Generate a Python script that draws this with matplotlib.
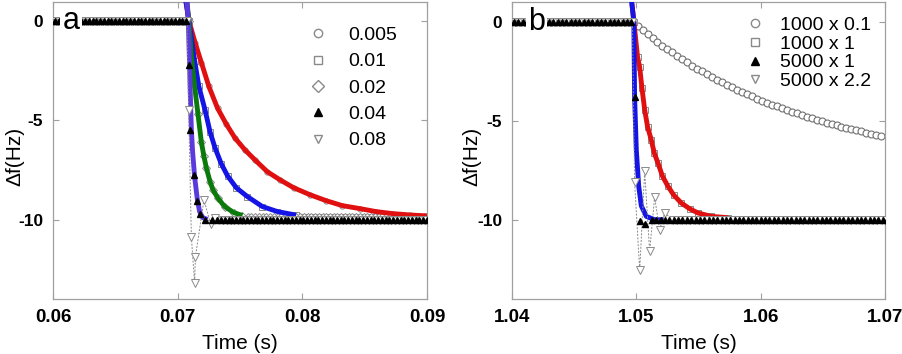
import numpy as np
import matplotlib.pyplot as plt
from matplotlib.lines import Line2D

plt.rcParams['font.family'] = 'Liberation Sans'
plt.rcParams['axes.unicode_minus'] = False

# ==============================================================================
#                         PANEL A
# ==============================================================================
labels_a = ['0.005', '0.01', '0.02', '0.04', '0.08']
flat_start_a = 0.0600
step_a = 0.0708          # last time on the 0 Hz plateau
flat_end_a = 0.0901
flat_dt_a = 0.0003

# fitted curves (drawn as thick coloured lines)
red_a_t = [0.0706, 0.0709, 0.0714, 0.0719, 0.0725, 0.0732, 0.0739, 0.0746, 0.0754,
           0.0762, 0.0772, 0.0782, 0.0793, 0.0806, 0.0819, 0.0832, 0.0846, 0.0859,
           0.0872, 0.0886, 0.0900]
red_a_v = [1.3, 0.0, -1.1, -2.1, -3.3, -4.4, -5.2, -5.9, -6.5,
           -7.0, -7.6, -8.0, -8.4, -8.75, -9.05, -9.3, -9.45, -9.6,
           -9.7, -9.77, -9.82]
blue_a_t = [0.07055, 0.0709, 0.0712, 0.07136, 0.0717, 0.0722, 0.0726, 0.0730, 0.0735,
            0.0740, 0.0747, 0.0756, 0.0768, 0.0780, 0.0795]
blue_a_v = [1.4, 0.0, -1.3, -2.0, -3.3, -4.5, -5.6, -6.4, -7.2,
            -7.8, -8.4, -8.85, -9.35, -9.6, -9.78]
green_a_t = [0.0707, 0.0709, 0.0711, 0.07136, 0.07163, 0.0719, 0.0721, 0.0723, 0.0726,
             0.07283, 0.0732, 0.07377, 0.0745, 0.0752]
green_a_v = [1.2, 0.0, -1.8, -3.3, -4.7, -6.1, -6.8, -7.4, -8.1,
             -8.5, -8.9, -9.35, -9.65, -9.8]
purple_a_t = [0.0707, 0.07085, 0.07096, 0.07103, 0.0711, 0.0712, 0.07136, 0.07158,
              0.07176, 0.0720, 0.0724]
purple_a_v = [1.5, 0.0, -2.3, -4.0, -5.5, -6.6, -7.85, -9.0, -9.6, -9.9, -10.0]

# measured points on the transients
tri_a_t = [0.07093, 0.07102, 0.0713, 0.07158, 0.07176, 0.07217, 0.07276]
tri_a_v = [-2.25, -5.5, -7.77, -9.08, -9.7, -10.0, -10.0]
dtri_a_t = [0.07088, 0.0711, 0.07136, 0.07142, 0.07211, 0.07265, 0.0730]
dtri_a_v = [-4.5, -10.9, -13.2, -11.9, -9.0, -10.25, -9.9]

# where each series sits on its final plateau
post_start_a = [None, 0.0800, 0.0755, 0.0730, 0.0734]
post_level_a = [None, -9.85, -9.85, -10.0, -10.0]

# ==============================================================================
#                         PANEL B
# ==============================================================================
labels_b = ['1000 x 0.1', '1000 x 1', '5000 x 1', '5000 x 2.2']
flat_start_b = 1.0400
step_b = 1.0497
flat_end_b = 1.0702
flat_dt_b = 0.00035

circ_b_t0 = 1.0497
circ_b_dt = 0.0004
circ_b_v = [0.0, -0.22, -0.43, -0.63, -0.83, -1.02, -1.21, -1.39, -1.56, -1.73,
            -1.90, -2.06, -2.22, -2.37, -2.52, -2.66, -2.80, -2.93, -3.07, -3.19,
            -3.32, -3.44, -3.55, -3.67, -3.78, -3.89, -3.99, -4.09, -4.19, -4.28,
            -4.38, -4.47, -4.55, -4.64, -4.72, -4.80, -4.88, -4.95, -5.03, -5.10,
            -5.17, -5.23, -5.30, -5.36, -5.42, -5.48, -5.54, -5.60, -5.65, -5.71,
            -5.76]

red_b_t = [1.04965, 1.0498, 1.0501, 1.05027, 1.05045, 1.05067, 1.0509, 1.0512, 1.05145,
           1.05174, 1.0521, 1.05255, 1.0530, 1.05362, 1.0543, 1.05496, 1.05603, 1.0574]
red_b_v = [0.9, 0.0, -1.8, -2.3, -3.35, -4.45, -5.3, -5.97, -6.65,
           -7.14, -7.8, -8.32, -8.75, -9.16, -9.45, -9.66, -9.83, -9.9]
blue_b_t = [1.04962, 1.0498, 1.04986, 1.0500, 1.05019, 1.0504, 1.0508, 1.05147, 1.0522]
blue_b_v = [1.0, 0.0, -3.8, -6.5, -8.3, -9.3, -9.83, -10.0, -10.0]

tri_b_t = [1.04986, 1.05027, 1.05067]
tri_b_v = [-3.8, -10.08, -10.2]
dtri_b_t = [1.04986, 1.05027, 1.05067, 1.05107, 1.05147, 1.05187, 1.05228]
dtri_b_v = [-8.1, -12.55, -7.56, -11.6, -8.86, -10.5, -9.66]

post_start_b = [None, 1.0578, 1.0511, 1.0527]
post_level_b = [None, -10.0, -10.0, -10.0]

# ==============================================================================
#                                    STYLE
# ==============================================================================
grey = '#8a8a8a'
spine_grey = '#a0a0a0'
c_red = '#e01010'
c_blue = '#1414e6'
c_green = '#0a7a0a'
c_purple = '#5a3adc'

open_kw = dict(linestyle='none', markerfacecolor='white', markeredgecolor=grey,
               markeredgewidth=0.7, markersize=3.8, zorder=2)
tri_kw = dict(linestyle='none', color='black', markersize=4.5, zorder=5)
dtri_kw = dict(color=grey, linestyle=(0, (2, 1.5)), linewidth=0.7, marker='v',
               markerfacecolor='white', markeredgecolor=grey, markeredgewidth=0.7,
               markersize=5.5, zorder=4)
fit_kw = dict(linewidth=3.5, solid_capstyle='butt', zorder=3)


def flat(t0, t1, dt, level, offset):
    t = np.arange(t0 + offset, t1, dt)
    return t, np.full(len(t), level)


def style_axes(ax, xticks, xlim, ylim, ylabel_x):
    ax.set_xlim(*xlim)
    ax.set_ylim(*ylim)
    ax.set_xticks(xticks)
    ax.set_xticklabels(['%g' % x for x in xticks], fontweight='bold', fontsize=13.5)
    ax.set_yticks([0, -5, -10])
    ax.set_yticklabels(['0', '-5', '-10'], fontweight='bold', fontsize=12.5)
    ax.tick_params(axis='both', direction='in', length=4, width=0.8, color=spine_grey,
                   top=True, right=True)
    ax.tick_params(axis='x', pad=7)
    ax.tick_params(axis='y', pad=7)
    for sp in ax.spines.values():
        sp.set_color(spine_grey)
        sp.set_linewidth(0.9)
    ax.set_xlabel('Time (s)', fontsize=15, labelpad=6)
    ax.set_ylabel('\u0394f(Hz)', fontsize=15)
    ax.yaxis.set_label_coords(ylabel_x, 0.48)


fig = plt.figure(figsize=(9.02, 3.54), dpi=100)
ax_a = fig.add_axes([0.05876, 0.15537, 0.41463, 0.8398])
ax_b = fig.add_axes([0.56763, 0.15537, 0.41353, 0.8398])

# ------------------------------- panel a --------------------------------------
markers_a = ['o', 's', 'D', '^', 'v']
along_a = [(red_a_t[1:], red_a_v[1:]), (blue_a_t[1:], blue_a_v[1:]),
           (green_a_t[1:], green_a_v[1:]), (tri_a_t, tri_a_v), (dtri_a_t, dtri_a_v)]
for k, (m, (tt, vv)) in enumerate(zip(markers_a, along_a)):
    t_pre, v_pre = flat(flat_start_a, step_a, flat_dt_a, 0.0, k * 0.00006)
    t_all = list(t_pre) + list(tt)
    v_all = list(v_pre) + list(vv)
    if post_start_a[k] is not None:
        t_post, v_post = flat(post_start_a[k], flat_end_a, flat_dt_a, post_level_a[k], k * 0.00006)
        t_all += list(t_post)
        v_all += list(v_post)
    if m == '^':
        ax_a.plot(t_all, v_all, marker='^', **tri_kw)
    elif m == 'v':
        ax_a.plot(t_all, v_all, **dtri_kw)
    else:
        ax_a.plot(t_all, v_all, marker=m, **open_kw)

ax_a.plot(red_a_t, red_a_v, color=c_red, **fit_kw)
ax_a.plot(blue_a_t, blue_a_v, color=c_blue, **fit_kw)
ax_a.plot(green_a_t, green_a_v, color=c_green, **fit_kw)
ax_a.plot(purple_a_t, purple_a_v, color=c_purple, **fit_kw)

style_axes(ax_a, [0.06, 0.07, 0.08, 0.09], (0.06, 0.09), (-14, 0.96), -0.076)
ax_a.text(0.06145, 0.0, 'a', fontsize=22, ha='center', va='center', zorder=10,
          bbox=dict(facecolor='white', edgecolor='none', pad=1.5))

handles_a = [
    Line2D([], [], marker='o', linestyle='none', markerfacecolor='white', markeredgecolor=grey, markersize=6),
    Line2D([], [], marker='s', linestyle='none', markerfacecolor='white', markeredgecolor=grey, markersize=6),
    Line2D([], [], marker='D', linestyle='none', markerfacecolor='white', markeredgecolor=grey, markersize=6),
    Line2D([], [], marker='^', linestyle='none', color='black', markersize=6),
    Line2D([], [], marker='v', linestyle='none', markerfacecolor='white', markeredgecolor=grey, markersize=6),
]
ax_a.legend(handles_a, labels_a, loc='upper left', bbox_to_anchor=(0.6826, 0.917),
            frameon=False, fontsize=14, handlelength=1.0, handletextpad=1.05,
            labelspacing=0.45, borderpad=0, borderaxespad=0)

# ------------------------------- panel b --------------------------------------
circ_b_t = circ_b_t0 + circ_b_dt * np.arange(len(circ_b_v))
markers_b = ['o', 's', '^', 'v']
along_b = [(circ_b_t, circ_b_v), (red_b_t[1:], red_b_v[1:]), (tri_b_t, tri_b_v),
           (dtri_b_t, dtri_b_v)]
for k, (m, (tt, vv)) in enumerate(zip(markers_b, along_b)):
    t_pre, v_pre = flat(flat_start_b, step_b, flat_dt_b, 0.0, k * 0.00008)
    t_all = list(t_pre) + list(tt)
    v_all = list(v_pre) + list(vv)
    if post_start_b[k] is not None:
        t_post, v_post = flat(post_start_b[k], flat_end_b, flat_dt_b, post_level_b[k], k * 0.00008)
        t_all += list(t_post)
        v_all += list(v_post)
    if m == '^':
        ax_b.plot(t_all, v_all, marker='^', **tri_kw)
    elif m == 'v':
        ax_b.plot(t_all, v_all, **dtri_kw)
    elif m == 'o':
        ax_b.plot(t_all, v_all, marker='o', linestyle='none', markerfacecolor='white',
                  markeredgecolor='#707070', markeredgewidth=0.8, markersize=5, zorder=2)
    else:
        ax_b.plot(t_all, v_all, marker=m, **open_kw)

ax_b.plot(red_b_t, red_b_v, color=c_red, **fit_kw)
ax_b.plot(blue_b_t, blue_b_v, color=c_blue, **fit_kw)

style_axes(ax_b, [1.04, 1.05, 1.06, 1.07], (1.04, 1.07), (-14, 1.0), -0.082)
ax_b.text(1.04199, 0.0, 'b', fontsize=22, ha='center', va='center', zorder=10,
          bbox=dict(facecolor='white', edgecolor='none', pad=1.5))

handles_b = [
    Line2D([], [], marker='o', linestyle='none', markerfacecolor='white', markeredgecolor=grey, markersize=6),
    Line2D([], [], marker='s', linestyle='none', markerfacecolor='white', markeredgecolor=grey, markersize=6),
    Line2D([], [], marker='^', linestyle='none', color='black', markersize=6),
    Line2D([], [], marker='v', linestyle='none', markerfacecolor='white', markeredgecolor=grey, markersize=6),
]
ax_b.legend(handles_b, labels_b, loc='upper left', bbox_to_anchor=(0.6255, 0.951),
            frameon=False, fontsize=14, handlelength=1.0, handletextpad=0.8,
            labelspacing=0.06, borderpad=0, borderaxespad=0)

fig.savefig('out.png', dpi=100)
